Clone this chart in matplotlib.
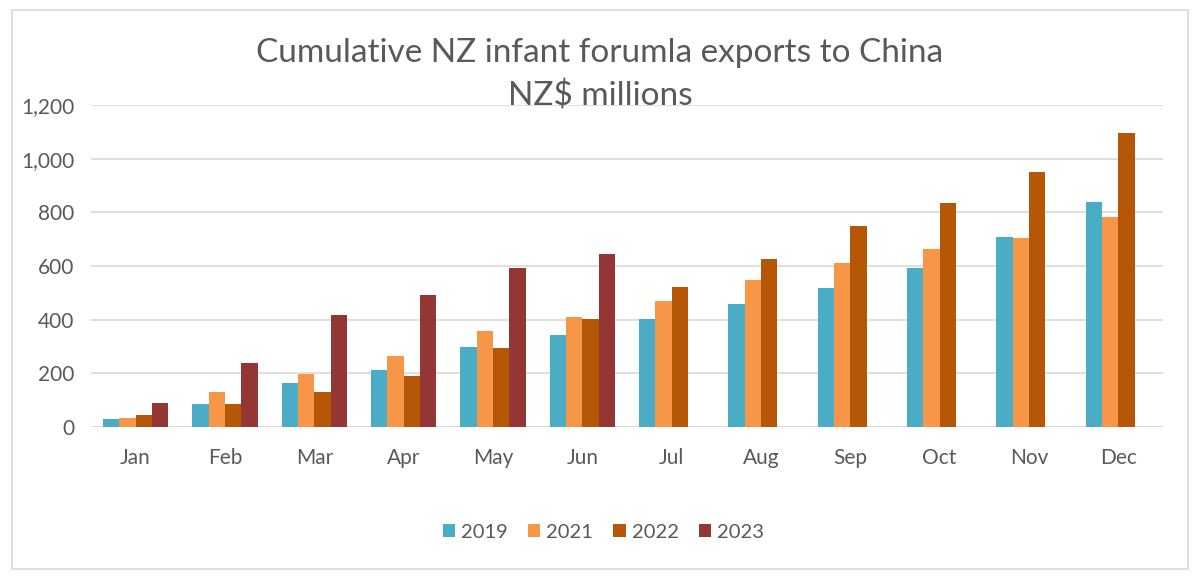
import numpy as np
import matplotlib
matplotlib.use("Agg")
import matplotlib.pyplot as plt
from matplotlib.patches import Rectangle

# Cumulative NZ infant formula exports to China, NZ$ millions
months = ['Jan', 'Feb', 'Mar', 'Apr', 'May', 'Jun',
          'Jul', 'Aug', 'Sep', 'Oct', 'Nov', 'Dec']
years = ['2019', '2021', '2022', '2023']
v2019 = [30, 87, 165, 212, 298, 343, 401, 458, 518, 591, 709, 839]
v2021 = [35, 132, 199, 265, 359, 410, 471, 547, 612, 663, 703, 783]
v2022 = [45, 87, 129, 190, 296, 404, 522, 627, 749, 834, 951, 1097]
v2023 = [91, 237, 416, 492, 594, 643]
colors = ['#4BACC6', '#F79646', '#B65708', '#943634']
series = [v2019, v2021, v2022, v2023]

plt.rcParams['font.family'] = ['Lato', 'DejaVu Sans']
text_col = '#595959'

fig = plt.figure(figsize=(12, 5.79), dpi=100)
fig.patches.append(Rectangle((0.010, 0.017), 0.980, 0.966, transform=fig.transFigure,
                             fill=False, edgecolor='#D9D9D9', linewidth=1.2))
ax = fig.add_axes([91 / 1200, 1 - 427 / 579, (1163 - 91) / 1200, (427 - 105) / 579])

x = np.arange(len(months))
bw = 0.183
for i, (vals, col, yr) in enumerate(zip(series, colors, years)):
    xs = x[:len(vals)] + (i - 1.5) * bw
    ax.bar(xs, vals, width=bw, color=col, label=yr, zorder=3)

ax.set_xlim(-0.5, len(months) - 0.5)
ax.set_ylim(0, 1200)
ax.set_yticks(range(0, 1201, 200))
ax.set_yticklabels([f'{v:,}' for v in range(0, 1201, 200)])
ax.set_xticks(x)
ax.set_xticklabels(months)
ax.yaxis.grid(True, color='#D9D9D9', linewidth=1.2, zorder=0)
for s in ax.spines.values():
    s.set_visible(False)
ax.axhline(0, color='#D9D9D9', linewidth=1.2, zorder=2)
ax.tick_params(axis='both', length=0, labelsize=15, colors=text_col)
ax.tick_params(axis='y', pad=12)
ax.tick_params(axis='x', pad=15)

fig.text(0.5, 1 - 53 / 579, 'Cumulative NZ infant forumla exports to China',
         ha='center', va='center', fontsize=24, color=text_col)
fig.text(0.5, 1 - 96 / 579, 'NZ$ millions',
         ha='center', va='center', fontsize=24, color=text_col)

fig.legend(loc='center', bbox_to_anchor=(0.503, 1 - 532 / 579), ncol=4, frameon=False,
           fontsize=14.5, handlelength=0.6, handleheight=0.6, handletextpad=0.3,
           columnspacing=1.0, labelcolor=text_col)

fig.savefig('out.png', dpi=100, facecolor='white')
